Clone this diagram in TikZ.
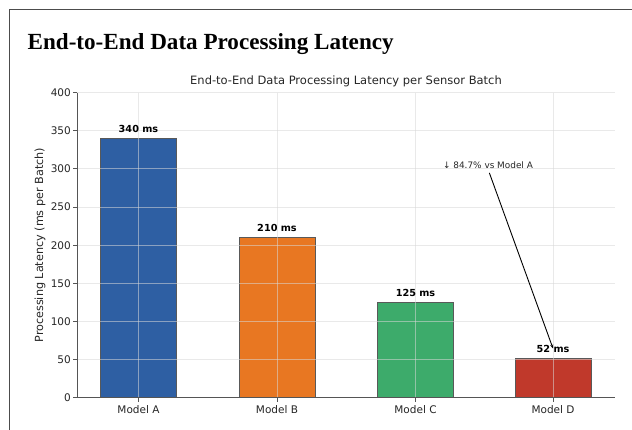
\documentclass[tikz,border=0pt]{standalone}
\usepackage{fontspec}
\setmainfont{DejaVu Sans}
\newfontfamily\titlefont{Liberation Serif}
\usetikzlibrary{arrows.meta}
\definecolor{barA}{HTML}{2E5FA3}
\definecolor{barB}{HTML}{E87722}
\definecolor{barC}{HTML}{3DAB6B}
\definecolor{barD}{HTML}{C0392B}
\definecolor{spine}{HTML}{555555}
\definecolor{gridc}{HTML}{D8D8D8}
\tikzset{
  bar/.style={draw=black!65, line width=0.6pt},
  gridline/.style={draw=gridc, line width=0.8pt, opacity=0.55},
  axisline/.style={draw=spine, line width=0.8pt},
  ticklbl/.style={font=\fontsize{10.5}{12}\selectfont, text=black!85, inner sep=0pt},
  vallbl/.style={font=\fontsize{9.7}{11}\selectfont\bfseries, inner sep=0pt},
  annlbl/.style={font=\fontsize{8.9}{10}\selectfont, text=black!85, inner sep=0pt},
}
\begin{document}
\begin{tikzpicture}[x=1pt,y=-1pt]
  \useasboundingbox (0,0) rectangle (632,430);
  \fill[white] (0,0) rectangle (632,430);
  % outer frame (top and left edges)
  \draw[black!70, line width=1pt] (9.5,430) -- (9.5,9.5) -- (632,9.5);

  % page heading
  \node[anchor=west, inner sep=0pt, font=\titlefont\fontsize{23.1}{26}\selectfont\bfseries]
    (heading) at (27.5,44.5) {End-to-End Data Processing Latency};

  % chart title
  \node[inner sep=0pt, font=\fontsize{11.5}{13}\selectfont, text=black!85]
    (ctitle) at (346,81) {End-to-End Data Processing Latency per Sensor Batch};

  % bars (value v maps to y = 397.7 - 0.7625 v)
  \path[bar, fill=barA] (100.5,397.7) rectangle (176.5,138.45);
  \path[bar, fill=barB] (239,397.7) rectangle (315,237.6);
  \path[bar, fill=barC] (377.5,397.7) rectangle (453.5,302.4);
  \path[bar, fill=barD] (515,397.7) rectangle (591,358.05);

  % grid, drawn over the bars
  \foreach \yy in {92.7,130.8,168.9,207.1,245.2,283.3,321.4,359.6}
    \path[gridline] (77,\yy) -- (615,\yy);
  \foreach \xx in {138.5,277,415.5,553}
    \path[gridline] (\xx,92.7) -- (\xx,397.7);

  % axes
  \path[axisline] (77,92.7) -- (77,397.7) -- (615,397.7);

  % y ticks and labels
  \foreach \v/\yy in {0/397.7,50/359.6,100/321.4,150/283.3,200/245.2,250/207.1,300/168.9,350/130.8,400/92.7} {
    \path[axisline] (73,\yy) -- (77,\yy);
    \node[ticklbl, anchor=east] (y\v) at (71,\yy) {\v};
  }
  \node[ticklbl, rotate=90, font=\fontsize{11.2}{13}\selectfont] (ylabel) at (40,245.2) {Processing Latency (ms per Batch)};

  % x ticks and labels
  \foreach \n/\xx in {A/138.5,B/277,C/415.5,D/553} {
    \path[axisline] (\xx,397.7) -- (\xx,401.7);
    \node[ticklbl] (x\n) at (\xx,410) {Model \n};
  }

  % value labels
  \node[vallbl] (lblA) at (138.5,128.5) {340 ms};
  \node[vallbl] (lblB) at (277,228) {210 ms};
  \node[vallbl] (lblC) at (415.5,293) {125 ms};
  \node[vallbl] (lblD) at (553,348.5) {52 ms};

  % annotation
  \node[annlbl] (ann) at (488,165.5) {↓ 84.7\% vs Model A};
  \draw[black, line width=0.9pt, -{Stealth[length=4pt,width=3pt]}, shorten <=4pt]
    (ann.south) -- (lblD.center);
\end{tikzpicture}
\end{document}
